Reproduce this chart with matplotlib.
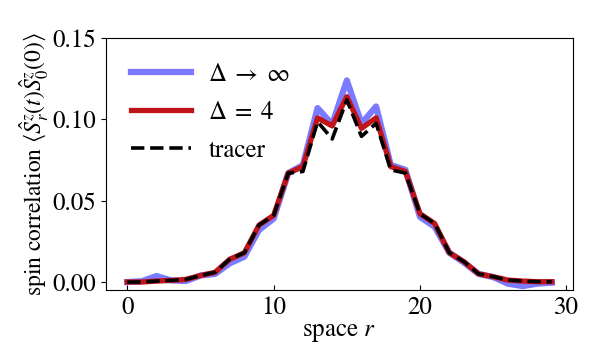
import numpy as np
import matplotlib
matplotlib.use("Agg")
import matplotlib.pyplot as plt

# spin correlation vs site
r = np.arange(30)
inf_delta = [0.0, 0.0005, 0.0037, 0.001, 0.0006, 0.004, 0.005, 0.0115, 0.0156, 0.032,
             0.039, 0.067, 0.072, 0.107, 0.097, 0.124, 0.0975, 0.108, 0.072, 0.069,
             0.040, 0.034, 0.018, 0.012, 0.005, 0.003, -0.001, -0.0025, -0.001, -0.0004]
delta4 = [0.0, 0.0, 0.0006, 0.001, 0.0016, 0.004, 0.006, 0.014, 0.018, 0.035,
          0.041, 0.067, 0.071, 0.101, 0.096, 0.114, 0.0945, 0.101, 0.071, 0.068,
          0.042, 0.036, 0.018, 0.0125, 0.005, 0.0033, 0.0012, 0.0006, 0.0002, 0.0002]
tracer = [0.0, 0.0, 0.0006, 0.001, 0.0016, 0.004, 0.006, 0.014, 0.018, 0.035,
          0.041, 0.067, 0.068, 0.0986, 0.088, 0.112, 0.0896, 0.0976, 0.069, 0.067,
          0.042, 0.036, 0.018, 0.0125, 0.005, 0.0033, 0.0012, 0.0006, 0.0002, 0.0002]

plt.rcParams['font.family'] = 'STIXGeneral'
plt.rcParams['mathtext.fontset'] = 'stix'
plt.rcParams['font.size'] = 18

fig = plt.figure(figsize=(5.92, 3.6), dpi=100)
ax = fig.add_axes([0.179, 0.194, 0.789, 0.700])

ax.plot(r, inf_delta, color='#7b7bff', lw=4.5, label=r'$\Delta\;\rightarrow\;\infty$')
ax.plot(r, delta4, color='#c01418', lw=3.8, label=r'$\Delta\;=\;4$')
ax.plot(r, tracer, color='black', lw=2.6, ls='--', label='tracer')

ax.set_xlim(-1.45, 30.45)
ax.set_ylim(-0.005, 0.15)
ax.set_xticks([0, 10, 20, 30])
ax.set_yticks([0.0, 0.05, 0.10, 0.15])
ax.set_yticklabels(['0.00', '0.05', '0.10', '0.15'])
ax.tick_params(axis='x', direction='in', pad=4)
ax.tick_params(axis='y', direction='out')

ax.set_xlabel(r'space $r$', labelpad=0)
ax.set_ylabel(r'spin correlation $\langle \hat{S}^z_r(t)\hat{S}^z_0(0)\rangle$',
              fontsize=17, labelpad=1)

ax.legend(loc='upper left', frameon=False, handlelength=2.4, fontsize=18,
          labelspacing=0.55, borderaxespad=0.6, handletextpad=0.7)

fig.savefig('out.png', dpi=100)
